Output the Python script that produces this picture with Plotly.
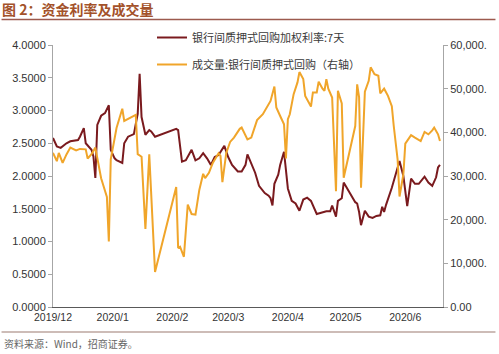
import plotly.graph_objects as go

# ---- data ----
rate_dates = [
    "2019-12-01", "2019-12-03", "2019-12-05", "2019-12-08", "2019-12-10", "2019-12-14", "2019-12-15",
    "2019-12-17", "2019-12-18", "2019-12-21", "2019-12-22", "2019-12-23", "2019-12-24", "2019-12-26",
    "2019-12-28", "2019-12-30", "2019-12-31", "2020-01-02", "2020-01-03", "2020-01-06", "2020-01-07",
    "2020-01-09", "2020-01-12", "2020-01-14", "2020-01-15", "2020-01-16", "2020-01-18", "2020-01-20",
    "2020-01-21", "2020-01-23", "2020-02-03", "2020-02-04", "2020-02-06", "2020-02-08", "2020-02-11",
    "2020-02-13", "2020-02-15", "2020-02-17", "2020-02-19", "2020-02-21", "2020-02-23", "2020-02-25",
    "2020-02-28", "2020-03-01", "2020-03-03", "2020-03-06", "2020-03-08", "2020-03-10", "2020-03-11",
    "2020-03-13", "2020-03-15", "2020-03-17", "2020-03-20", "2020-03-22", "2020-03-23", "2020-03-24",
    "2020-03-25", "2020-03-27", "2020-03-28", "2020-03-30", "2020-03-31", "2020-04-01", "2020-04-03",
    "2020-04-05", "2020-04-07", "2020-04-09", "2020-04-11", "2020-04-13", "2020-04-16", "2020-04-18",
    "2020-04-21", "2020-04-23", "2020-04-24", "2020-04-26", "2020-04-27", "2020-04-29", "2020-04-30",
    "2020-05-06", "2020-05-07", "2020-05-08", "2020-05-09", "2020-05-11", "2020-05-13", "2020-05-15",
    "2020-05-17", "2020-05-19", "2020-05-20", "2020-05-21", "2020-05-22", "2020-05-25", "2020-05-27",
    "2020-05-29", "2020-05-31", "2020-06-02", "2020-06-04", "2020-06-06", "2020-06-08", "2020-06-11",
    "2020-06-13", "2020-06-15", "2020-06-17", "2020-06-18", "2020-06-19",
]
rate_values = [
    2.58, 2.45, 2.43, 2.50, 2.53, 2.55, 2.60,
    2.73, 2.50, 2.40, 2.30, 1.97, 2.78, 2.92,
    2.96, 3.08, 2.40, 2.27, 2.24, 2.20, 2.50,
    2.60, 2.64, 2.95, 3.56, 2.90, 2.63, 2.70,
    2.68, 2.60, 2.72, 2.70, 2.22, 2.24, 2.40,
    2.24, 2.27, 2.35, 2.27, 2.17, 2.29, 2.32,
    2.46, 2.29, 2.17, 2.07, 2.07, 2.17, 2.33,
    2.20, 2.05, 1.85, 1.74, 1.70, 1.66, 1.55,
    1.88, 2.02, 2.17, 2.37, 2.12, 1.81, 1.62,
    1.58, 1.47, 1.64, 1.67, 1.62, 1.42, 1.44,
    1.46, 1.46, 1.55, 1.38, 1.62, 1.66, 1.90,
    1.60, 1.58, 1.45, 1.25, 1.47, 1.38, 1.36,
    1.39, 1.40, 1.53, 1.45, 1.56, 1.82, 2.04,
    2.23, 2.00, 1.54, 1.96, 1.88, 1.88, 1.99,
    1.90, 1.85, 1.98, 2.13, 2.17,
]

vol_dates = [
    "2019-12-01", "2019-12-03", "2019-12-04", "2019-12-06", "2019-12-08", "2019-12-10", "2019-12-13",
    "2019-12-15", "2019-12-18", "2019-12-19", "2019-12-21", "2019-12-23", "2019-12-26", "2019-12-29",
    "2019-12-30", "2019-12-31", "2020-01-03", "2020-01-06", "2020-01-07", "2020-01-10", "2020-01-13",
    "2020-01-14", "2020-01-16", "2020-01-18", "2020-01-20", "2020-01-23", "2020-02-03", "2020-02-04",
    "2020-02-05", "2020-02-07", "2020-02-09", "2020-02-11", "2020-02-13", "2020-02-15", "2020-02-17",
    "2020-02-18", "2020-02-20", "2020-02-22", "2020-02-25", "2020-02-26", "2020-02-27", "2020-02-29",
    "2020-03-02", "2020-03-04", "2020-03-07", "2020-03-08", "2020-03-10", "2020-03-11", "2020-03-13",
    "2020-03-14", "2020-03-16", "2020-03-19", "2020-03-21", "2020-03-23", "2020-03-25", "2020-03-26",
    "2020-03-28", "2020-03-30", "2020-03-31", "2020-04-01", "2020-04-02", "2020-04-04", "2020-04-06",
    "2020-04-07", "2020-04-09", "2020-04-10", "2020-04-13", "2020-04-14", "2020-04-16", "2020-04-17",
    "2020-04-19", "2020-04-20", "2020-04-21", "2020-04-22", "2020-04-24", "2020-04-26", "2020-04-27",
    "2020-04-29", "2020-04-30", "2020-05-06", "2020-05-07", "2020-05-08", "2020-05-09", "2020-05-11",
    "2020-05-13", "2020-05-14", "2020-05-16", "2020-05-18", "2020-05-19", "2020-05-21", "2020-05-23",
    "2020-05-25", "2020-05-26", "2020-05-28", "2020-05-29", "2020-05-31", "2020-06-01", "2020-06-04",
    "2020-06-06", "2020-06-09", "2020-06-11", "2020-06-13", "2020-06-15", "2020-06-16", "2020-06-18",
    "2020-06-19",
]
vol_values = [
    35300, 33400, 35300, 33000, 34950, 36500, 35860,
    36200, 36100, 34000, 35000, 36500, 29500, 25200,
    15000, 33800, 41000, 45400, 42600, 43400, 44000,
    35000, 34400, 17900, 34950, 8000, 27500, 13500,
    13800, 11500, 23450, 21300, 21150, 26800, 30500,
    29500, 30740, 33000, 35200, 34600, 28600, 35300,
    37800, 38800, 40800, 41100, 39500, 38400, 38800,
    40000, 42800, 44140, 45680, 47200, 50500, 45680,
    43750, 41840, 34000, 43000, 44140, 48740, 51430,
    53800, 52190, 48350, 45900, 49150, 49150, 51600,
    50000, 49500, 52190, 50000, 47980, 26500, 49500,
    46600, 29600, 41450, 51000, 48000, 27300, 49300,
    51800, 54880, 53300, 52950, 48900, 50000, 48350,
    46000, 41450, 33800, 25300, 30350, 37400, 39350,
    38780, 38000, 40100, 39540, 40460, 41080, 39540,
    38000,
]

month_ticks = ["2019-12-01", "2020-01-01", "2020-02-01", "2020-03-01",
               "2020-04-01", "2020-05-01", "2020-06-01"]
month_labels = ["2019/12", "2020/1", "2020/2", "2020/3", "2020/4", "2020/5", "2020/6"]

left_ticks = [0, 0.5, 1.0, 1.5, 2.0, 2.5, 3.0, 3.5, 4.0]
right_ticks = [0, 10000, 20000, 30000, 40000, 50000, 60000]
right_labels = ["0.00", "10,000.", "20,000.", "30,000.", "40,000.", "50,000.", "60,000."]

rate_name = "银行间质押式回购加权利率:7天"
vol_name = "成交量:银行间质押式回购（右轴）"

# ---- layout geometry ----
W, H = 499, 354
ML, MR, MT, MB = 52, 53, 45, 47
PW, PH = W - ML - MR, H - MT - MB


def px(x):
    return (x - ML) / PW


def py(y):
    return (H - MB - y) / PH


RED = "#7A1A1E"
ORANGE = "#F0A52A"
AXIS = "#A6A6A6"
TXT = "#333333"
FONT = "Liberation Sans, Arial, sans-serif"
CJK = "Noto Sans CJK SC"

fig = go.Figure()
fig.add_trace(go.Scatter(x=rate_dates, y=rate_values, name=rate_name, mode="lines",
                         line=dict(color=RED, width=2), legendgroup="a", yaxis="y"))
fig.add_trace(go.Scatter(x=vol_dates, y=vol_values, name=vol_name, mode="lines",
                         line=dict(color=ORANGE, width=2), legendgroup="b", yaxis="y2"))

fig.update_layout(
    width=W, height=H,
    margin=dict(l=ML, r=MR, t=MT, b=MB, pad=0),
    paper_bgcolor="white", plot_bgcolor="white",
    showlegend=True,
    legend=dict(x=px(152), y=py(23), xanchor="left", yanchor="top",
                bgcolor="rgba(0,0,0,0)", borderwidth=0,
                font=dict(family=CJK, size=11, color="#3a3a3a"),
                tracegroupgap=8, traceorder="grouped", itemwidth=30),
    title=dict(text="<b>图 2：资金利率及成交量</b>", x=2 / W, y=1 - 10 / H,
               xref="container", yref="container", xanchor="left", yanchor="middle",
               font=dict(family=CJK, size=14, color="#A3522A")),
    xaxis=dict(type="date", range=["2019-12-01", "2020-06-20 14:00"],
               tickmode="array", tickvals=month_ticks, ticktext=month_labels,
               showgrid=False, zeroline=False, showline=True, linecolor="#595959",
               linewidth=1, ticks="", ticklen=6, tickcolor="rgba(0,0,0,0)",
               tickfont=dict(family=FONT, size=10.5, color=TXT)),
    yaxis=dict(range=[0, 4], tickmode="array", tickvals=left_ticks,
               tickformat=".4f", showgrid=False, zeroline=False, showline=True,
               linecolor=AXIS, linewidth=1, ticks="outside", ticklen=4, tickcolor=AXIS,
               tickfont=dict(family=FONT, size=11, color=TXT)),
    yaxis2=dict(range=[0, 60000], overlaying="y", side="right", tickmode="array",
                tickvals=right_ticks, ticktext=right_labels, showgrid=False,
                zeroline=False, showline=True, linecolor=AXIS, linewidth=1,
                ticks="outside", ticklen=4, tickcolor=AXIS,
                tickfont=dict(family=FONT, size=11, color=TXT)),
    shapes=[
        dict(type="line", xref="paper", yref="paper", x0=px(0), x1=px(W), y0=py(19.5), y1=py(19.5),
             line=dict(color="#9C5A4E", width=1.5)),
        dict(type="line", xref="paper", yref="paper", x0=px(0), x1=px(W), y0=py(332), y1=py(332),
             line=dict(color="#9C7A70", width=1.2)),
    ],
    annotations=[
        dict(text="资料来源：Wind，招商证券。", xref="paper", yref="paper", x=px(0), y=py(343),
             xanchor="left", yanchor="middle", showarrow=False,
             font=dict(family=CJK, size=10, color="#666666")),
    ],
)

fig.write_html("out.html")
